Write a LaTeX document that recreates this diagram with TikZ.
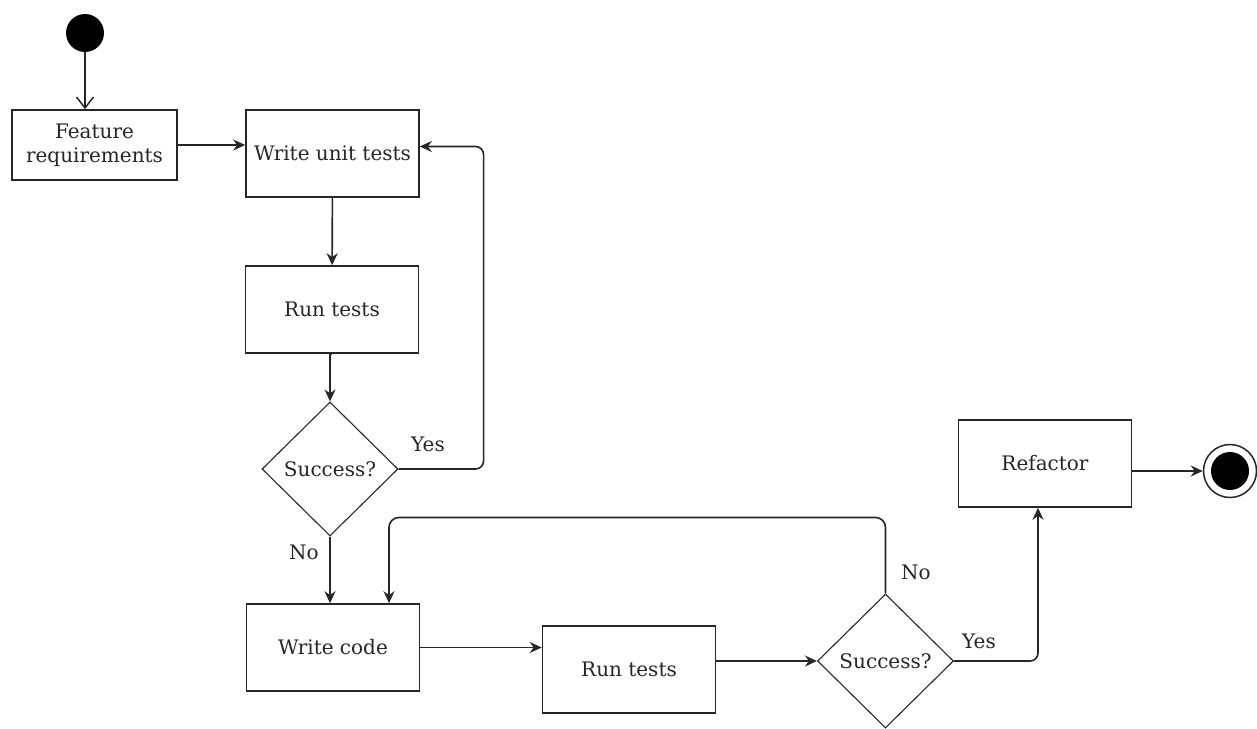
\documentclass[tikz,border=0pt]{standalone}
\usepackage{fontspec}
\setmainfont{DejaVu Serif}
\usetikzlibrary{shapes.geometric, arrows.meta, positioning}

\begin{document}
\begin{tikzpicture}[
    x=1pt, y=-1pt,
    font=\fontsize{20}{24}\selectfont,
    step box/.style={rectangle, draw=black!85, line width=1.6pt, minimum width=173pt, minimum height=87pt, align=center, text=black!85},
    check/.style={diamond, draw=black!85, line width=1.1pt, minimum width=136pt, minimum height=134pt, inner sep=0pt, text=black!85},
    flow/.style={-{Stealth[length=12pt, width=11pt]}, line width=1.6pt, black!85},
    answer/.style={text=black!85}
]
    \useasboundingbox (0,0) rectangle (1257,728);

    % start and end
    \node[circle, fill=black, minimum size=38pt, inner sep=0pt] (start) at (85,33) {};
    \node[circle, draw=black!85, line width=1.5pt, minimum size=53pt, inner sep=0pt] (finish) at (1230,471) {};
    \node[circle, fill=black, minimum size=38pt, inner sep=0pt] (finishdot) at (finish) {};

    % first loop
    \node[step box, minimum width=165pt, minimum height=70pt] (feat) at (94.5,145) {Feature\\ requirements};
    \node[step box] (unittests) at (332.5,153.5) {Write unit tests};
    \node[step box] (runfirst) at (332,309.5) {Run tests};
    \node[check] (okfirst) at (330,469) {Success?};

    % second loop
    \node[step box] (code) at (333,647.5) {Write code};
    \node[step box] (runsecond) at (629,669.5) {Run tests};
    \node[check] (oksecond) at (885.5,661) {Success?};
    \node[step box] (refactor) at (1045,463.5) {Refactor};

    \node[answer] (yesfirst) at (428,444) {Yes};
    \node[answer] (nofirst) at (304,552) {No};
    \node[answer] (nosecond) at (916,572) {No};
    \node[answer] (yessecond) at (979,641) {Yes};

    \coordinate (codein) at ([xshift=56pt]code.north);

    \draw[-{Straight Barb[length=11pt, width=17pt]}, line width=1.5pt, black!85] (start) -- (start |- feat.north);
    \draw[flow] (feat) -- (unittests.west |- feat);
    \draw[flow] (unittests) -- (runfirst);
    \draw[flow] (runfirst.south) -- (runfirst.south -| okfirst.north) -- (okfirst.north);
    \draw[flow, rounded corners=8pt] (okfirst.east) -- ++(85,0) |- ([yshift=7pt]unittests.east);
    \draw[flow] (okfirst.south) -- (okfirst.south |- code.north);
    \draw[flow] (code) -- (runsecond.west |- code);
    \draw[flow] (runsecond.east |- oksecond.west) -- (oksecond.west);
    \draw[flow, rounded corners=10pt] (oksecond.north) -- ++(0,-76) -| (codein);
    \draw[flow, rounded corners=8pt] (oksecond.east) -| ([xshift=-7pt]refactor.south);
    \draw[flow] (refactor.east |- finish) -- (finish);
\end{tikzpicture}
\end{document}
